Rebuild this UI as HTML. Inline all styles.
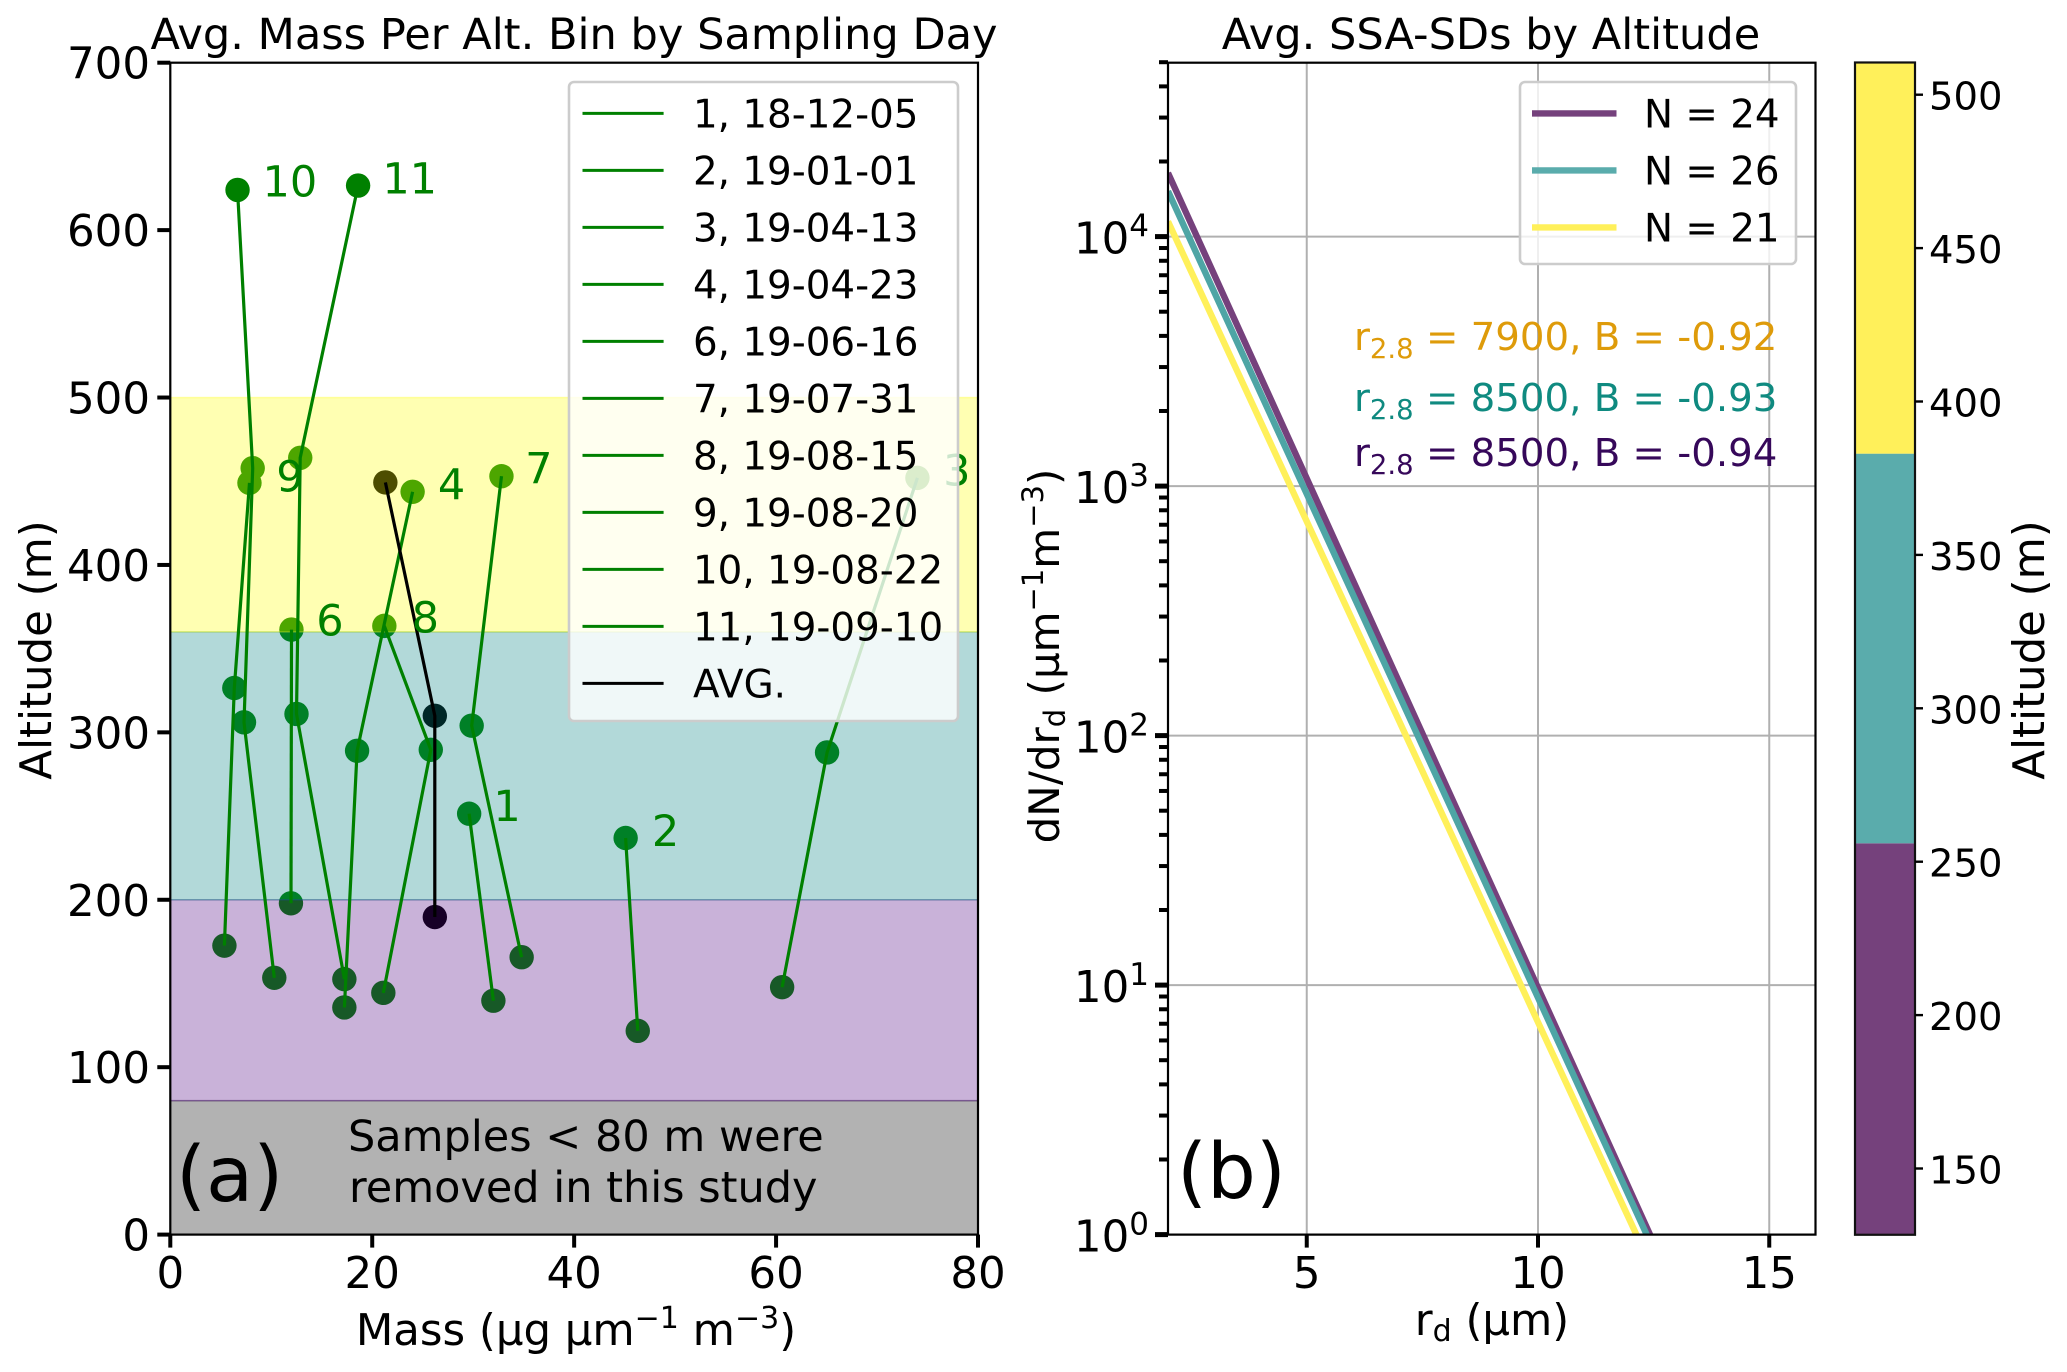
<!DOCTYPE html>
<html>
<head>
<meta charset="utf-8">
<title>Avg. Mass Per Alt. Bin and SSA-SDs</title>
<style>
html,body{margin:0;padding:0;background:#fff;}
svg{display:block;}
text{font-family:"DejaVu Sans","Liberation Sans",sans-serif;fill:#000;}
</style>
</head>
<body>
<svg id="fig" xmlns="http://www.w3.org/2000/svg" width="2067" height="1372" viewBox="0 0 2067 1372">
  <rect x="0" y="0" width="2067" height="1372" fill="#fff"/>
  <g id="gridB"></g>
  <g id="curvesB"></g>
  <g id="marksA"></g>
  <g id="bandsA"></g>
  <g id="linesA"></g>
  <g id="dayLabels"></g>
  <g id="axesA"></g>
  <g id="legendA"></g>
  <g id="axesB"></g>
  <g id="legendB"></g>
  <g id="colorbar"></g>

  <text x="574" y="49" font-size="43.1" text-anchor="middle">Avg. Mass Per Alt. Bin by Sampling Day</text>
  <text x="1491" y="49" font-size="43.1" text-anchor="middle">Avg. SSA-SDs by Altitude</text>

  <text transform="translate(51 650) rotate(-90)" font-size="43.4" text-anchor="middle">Altitude (m)</text>
  <text x="576" y="1345" font-size="43.4" text-anchor="middle">Mass (µg µm<tspan dy="-17" font-size="30">−1</tspan><tspan dy="17"> m</tspan><tspan dy="-17" font-size="30">−3</tspan><tspan dy="17">)</tspan></text>

  <text transform="translate(1059 656) rotate(-90)" font-size="42" text-anchor="middle">dN/dr<tspan dy="6" font-size="29">d</tspan><tspan dy="-6"> (µm</tspan><tspan dy="-16" font-size="29">−1</tspan><tspan dy="16">m</tspan><tspan dy="-16" font-size="29">−3</tspan><tspan dy="16">)</tspan></text>
  <text x="1492" y="1335" font-size="43.4" text-anchor="middle">r<tspan dy="6" font-size="30">d</tspan><tspan dy="-6"> (µm)</tspan></text>
  <text transform="translate(2044 650) rotate(-90)" font-size="43.4" text-anchor="middle">Altitude (m)</text>

  <text x="176" y="1201" font-size="77">(a)</text>
  <text x="348" y="1151" font-size="43">Samples &lt; 80 m were</text>
  <text x="349" y="1202" font-size="43">removed in this study</text>
  <text x="1177" y="1198" font-size="77">(b)</text>

  <text x="1354" y="350" font-size="38.7" style="fill:#de9b0a">r<tspan dy="8" font-size="27.5" style="fill:#de9b0a">2.8</tspan><tspan dy="-8" style="fill:#de9b0a"> = 7900, B = -0.92</tspan></text>
  <text x="1354" y="411" font-size="38.7" style="fill:#0f8a80">r<tspan dy="8" font-size="27.5" style="fill:#0f8a80">2.8</tspan><tspan dy="-8" style="fill:#0f8a80"> = 8500, B = -0.93</tspan></text>
  <text x="1354" y="466" font-size="38.7" style="fill:#36085a">r<tspan dy="8" font-size="27.5" style="fill:#36085a">2.8</tspan><tspan dy="-8" style="fill:#36085a"> = 8500, B = -0.94</tspan></text>
</svg>

<script>
// Panel (a): mass (x) and altitude (y) by sampling day
var day1Mass = [29.6, 32];
var day1Alt = [251.4, 139.7];
var day2Mass = [45.1, 46.3];
var day2Alt = [236.9, 121.7];
var day3Mass = [74, 65.05, 60.6];
var day3Alt = [452, 288, 147.8];
var day4Mass = [24, 18.5, 17.24];
var day4Alt = [443.7, 289, 135.7];
var day6Mass = [12, 11.95];
var day6Alt = [361.4, 197.9];
var day7Mass = [32.8, 29.85, 34.8];
var day7Alt = [453, 304, 165.7];
var day8Mass = [21.2, 25.8, 21.1];
var day8Alt = [363.6, 289.6, 144.4];
var day9Mass = [7.84, 6.34, 5.36];
var day9Alt = [449, 326.5, 172.6];
var day10Mass = [6.66, 8.16, 7.3, 10.3];
var day10Alt = [624, 457.8, 306, 153.4];
var day11Mass = [18.6, 12.87, 12.5, 17.24];
var day11Alt = [626.6, 464, 311, 152.6];
var avgMass = [21.3, 26.2, 26.2];
var avgAlt = [449.3, 309.9, 189.7];

var legendLabelsA = ["1, 18-12-05","2, 19-01-01","3, 19-04-13","4, 19-04-23","6, 19-06-16","7, 19-07-31","8, 19-08-15","9, 19-08-20","10, 19-08-22","11, 19-09-10","AVG."];
var ticksAX = [0, 20, 40, 60, 80];
var ticksAY = [0, 100, 200, 300, 400, 500, 600, 700];
var bandLows = [0, 80, 200, 360];
var bandHighs = [80, 200, 360, 500];

// Day annotations (anchored in data coordinates)
var dayLabelText = ["10", "11", "9", "4", "7", "3", "6", "8", "1", "2"];
var dayLabelMass = [9.13, 21.0, 10.5, 26.5, 35.15, 76.55, 14.45, 23.9, 32, 47.7];
var dayLabelAlt = [620, 622, 444, 439, 449, 447.5, 358, 359.5, 247, 232];

// Panel (b): size distributions
var rdValues = [2, 5, 7.5, 10, 12.5];
var sdN24 = [18000, 1072, 102, 9.75, 0.93];
var sdN26 = [15200, 929, 91, 8.9, 0.87];
var sdN21 = [11500, 721, 72, 7.1, 0.71];
var legendLabelsB = ["N = 24", "N = 26", "N = 21"];
var ticksBX = [5, 10, 15];
var decadesB = [0, 1, 2, 3, 4];
var minorMultipliers = [2, 3, 4, 5, 6, 7, 8, 9];

// Colorbar
var cbarTicks = [150, 200, 250, 300, 350, 400, 450, 500];
var cbarEdges = [128.4, 256, 383, 510.5];

var NS = "http://www.w3.org/2000/svg";
function make(tag, attrs, parent) {
  var e = document.createElementNS(NS, tag);
  for (var k in attrs) e.setAttribute(k, attrs[k]);
  parent.appendChild(e);
  return e;
}
var gGridB = document.getElementById("gridB");
var gCurves = document.getElementById("curvesB");
var gMarks = document.getElementById("marksA");
var gBands = document.getElementById("bandsA");
var gLines = document.getElementById("linesA");
var gDayLabels = document.getElementById("dayLabels");
var gAxesA = document.getElementById("axesA");
var gLegendA = document.getElementById("legendA");
var gAxesB = document.getElementById("axesB");
var gLegendB = document.getElementById("legendB");
var gCbar = document.getElementById("colorbar");

// axis functions
var A = {l: 170.3, r: 978, t: 62.7, b: 1234.6};
function xA(v) { return A.l + (v - 0) / 80 * (A.r - A.l); }
function yA(v) { return A.b - v / 700 * (A.b - A.t); }
var B = {l: 1168, r: 1815.5, t: 62.7, b: 1234.6};
function xB(v) { return B.l + (v - 2) / 14 * (B.r - B.l); }
function yB(v) { return B.b - Math.log(v) / Math.LN10 * 249.5; }
function yC(v) { return 1168.5 - (v - 150) * 3.068; }

// ----- panel (a) marks: markers sit under the bands, lines above them
var GREEN = "#008000";
var seriesA = [
  [day1Mass, day1Alt, GREEN], [day2Mass, day2Alt, GREEN], [day3Mass, day3Alt, GREEN],
  [day4Mass, day4Alt, GREEN], [day6Mass, day6Alt, GREEN], [day7Mass, day7Alt, GREEN],
  [day8Mass, day8Alt, GREEN], [day9Mass, day9Alt, GREEN], [day10Mass, day10Alt, GREEN],
  [day11Mass, day11Alt, GREEN], [avgMass, avgAlt, "#000"]
];
seriesA.forEach(function (s) {
  var pts = s[0].map(function (m, i) { return xA(m).toFixed(1) + "," + yA(s[1][i]).toFixed(1); }).join(" ");
  s[0].forEach(function (m, i) {
    var c = make("circle", {cx: xA(m), cy: yA(s[1][i]), r: 12.2, fill: s[2]}, gMarks);
    
    
  });
  var line = make("polyline", {points: pts, fill: "none", stroke: s[2], "stroke-width": 3.2}, gLines);
  
  
});

// ----- panel (a) altitude bands
var bandFills = ["#000000", "#4b0082", "#008080", "#ffff00"];
var bandNames = ["removed-band", "low-altitude-band", "mid-altitude-band", "high-altitude-band"];
bandLows.forEach(function (lo, i) {
  var hi = bandHighs[i];
  var r = make("rect", {x: A.l, y: yA(hi), width: A.r - A.l, height: yA(lo) - yA(hi), fill: bandFills[i], "fill-opacity": 0.3, stroke: bandFills[i], "stroke-opacity": 0.3, "stroke-width": 1.5}, gBands);
  
  
});

// ----- day labels
dayLabelText.forEach(function (t, i) {
  var x = make("text", {x: xA(dayLabelMass[i]), y: yA(dayLabelAlt[i]), "font-size": 43, style: "fill:#008000"}, gDayLabels);
  x.textContent = t;
  
  
});

// ----- axes (a)
var frameA = make("rect", {x: A.l, y: A.t, width: A.r - A.l, height: A.b - A.t, fill: "none", stroke: "#000", "stroke-width": 2.2}, gAxesA);


ticksAX.forEach(function (v) {
  var t = make("rect", {x: xA(v) - 2, y: A.b, width: 4, height: 13}, gAxesA);
  
  
  var l = make("text", {x: xA(v), y: 1288, "font-size": 43.5, "text-anchor": "middle"}, gAxesA);
  l.textContent = v;
  
  
});
ticksAY.forEach(function (v) {
  var t = make("rect", {x: A.l - 13, y: yA(v) - 2, width: 13, height: 4}, gAxesA);
  
  
  var l = make("text", {x: 150, y: yA(v) + 16, "font-size": 43.5, "text-anchor": "end"}, gAxesA);
  l.textContent = v;
  
  
});

// ----- legend (a)
var boxA = make("rect", {x: 569, y: 82, width: 389, height: 639, rx: 5, fill: "#fff", "fill-opacity": 0.8, stroke: "#ccc", "stroke-width": 2.6}, gLegendA);


legendLabelsA.forEach(function (t, i) {
  var y = 113.4 + i * 57;
  var c = i === legendLabelsA.length - 1 ? "#000" : GREEN;
  var ln = make("line", {x1: 582.5, x2: 663.6, y1: y, y2: y, stroke: c, "stroke-width": 3}, gLegendA);
  
  
  var tx = make("text", {x: 693, y: y + 14, "font-size": 38.8}, gLegendA);
  tx.textContent = t;
  
  
});

// ----- panel (b) grid
ticksBX.forEach(function (v) {
  var g = make("line", {x1: xB(v), x2: xB(v), y1: B.t, y2: B.b, stroke: "#b0b0b0", "stroke-width": 2}, gGridB);
  
  
});
decadesB.forEach(function (d) {
  var v = Math.pow(10, d);
  var g = make("line", {x1: B.l, x2: B.r, y1: yB(v), y2: yB(v), stroke: "#b0b0b0", "stroke-width": 2}, gGridB);
  
  
});

// ----- panel (b) curves
var clip = make("clipPath", {id: "clipB"}, gCurves);
make("rect", {x: B.l, y: B.t, width: B.r - B.l, height: B.b - B.t}, clip);
var curveStyles = [[sdN24, "#75417c", "curve-n24"], [sdN26, "#4ea5a5", "curve-n26"], [sdN21, "#fff05a", "curve-n21"]];
curveStyles.forEach(function (s) {
  var pts = rdValues.map(function (r, i) { return xB(r).toFixed(1) + "," + yB(s[0][i]).toFixed(1); }).join(" ");
  var p = make("polyline", {points: pts, fill: "none", stroke: s[1], "stroke-width": 6.4, "clip-path": "url(#clipB)"}, gCurves);
  
  
});

// ----- axes (b)
var frameB = make("rect", {x: B.l, y: B.t, width: B.r - B.l, height: B.b - B.t, fill: "none", stroke: "#000", "stroke-width": 2.2}, gAxesB);


ticksBX.forEach(function (v) {
  var t = make("rect", {x: xB(v) - 2, y: B.b, width: 4, height: 13}, gAxesB);
  
  
  var l = make("text", {x: xB(v), y: 1288, "font-size": 43.5, "text-anchor": "middle"}, gAxesB);
  l.textContent = v;
  
  
});
decadesB.forEach(function (d) {
  var v = Math.pow(10, d);
  var t = make("rect", {x: B.l - 13, y: yB(v) - 2.5, width: 13, height: 5}, gAxesB);
  
  
  var l = make("text", {x: 1149, y: yB(v) + 17, "font-size": 43.5, "text-anchor": "end"}, gAxesB);
  
  
  var base = make("tspan", {}, l);
  base.textContent = "10";
  var sup = make("tspan", {dy: -17, "font-size": 31}, l);
  sup.textContent = d;
  minorMultipliers.forEach(function (m) {
    var mv = v * m;
    if (yB(mv) < B.t - 1) return;
    var mt = make("rect", {x: B.l - 9, y: yB(mv) - 2, width: 9, height: 4}, gAxesB);
    
    
  });
});

// ----- legend (b)
var boxB = make("rect", {x: 1520, y: 82, width: 276, height: 182, rx: 5, fill: "#fff", "fill-opacity": 0.8, stroke: "#ccc", "stroke-width": 2.6}, gLegendB);


var legendColorsB = ["#75417c", "#5aacac", "#fff05a"];
legendLabelsB.forEach(function (t, i) {
  var y = 113.4 + i * 57;
  var ln = make("line", {x1: 1532, x2: 1616.5, y1: y, y2: y, stroke: legendColorsB[i], "stroke-width": 6.4}, gLegendB);
  
  
  var tx = make("text", {x: 1644, y: y + 14, "font-size": 38.8}, gLegendB);
  tx.textContent = t;
  
  
});

// ----- colorbar
var cbarColors = ["#75417c", "#5aacac", "#fff05a"];
var cbarX = 1855, cbarW = 60;
cbarColors.forEach(function (c, i) {
  var r = make("rect", {x: cbarX, y: yC(cbarEdges[i + 1]), width: cbarW, height: yC(cbarEdges[i]) - yC(cbarEdges[i + 1]), fill: c}, gCbar);
  
  
});
var cframe = make("rect", {x: cbarX, y: yC(cbarEdges[3]), width: cbarW, height: yC(cbarEdges[0]) - yC(cbarEdges[3]), fill: "none", stroke: "#111", "stroke-width": 2.2}, gCbar);


cbarTicks.forEach(function (v) {
  var t = make("line", {x1: cbarX + cbarW, x2: cbarX + cbarW + 8, y1: yC(v), y2: yC(v), stroke: "#000", "stroke-width": 2.4}, gCbar);
  
  
  var l = make("text", {x: 1929, y: yC(v) + 15, "font-size": 38.5}, gCbar);
  l.textContent = v;
  
  
});
</script>
</body>
</html>
